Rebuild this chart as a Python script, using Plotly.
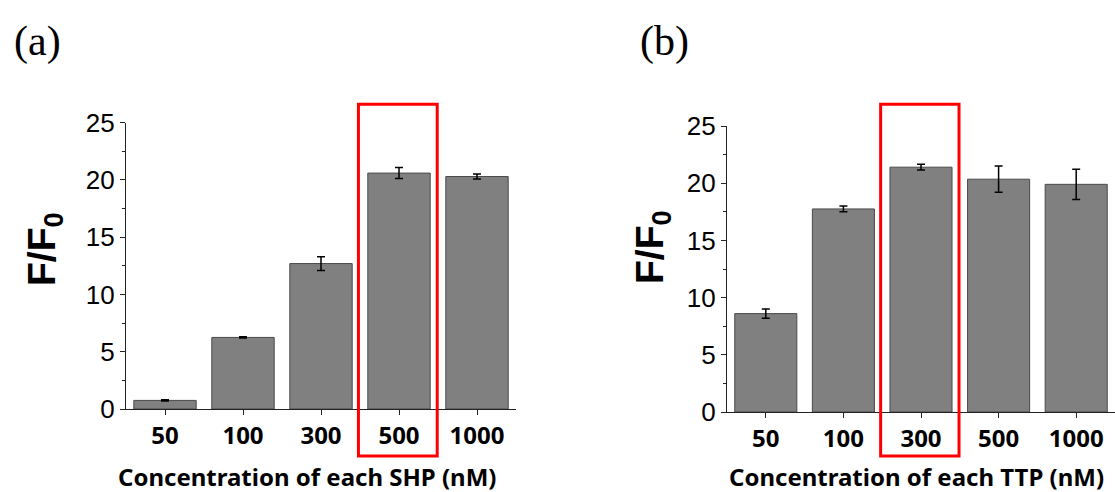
import plotly.graph_objects as go

# ---- data ----
conc_a = ["50", "100", "300", "500", "1000"]
ff0_a = [0.75, 6.25, 12.7, 20.6, 20.3]
err_a = [0.05, 0.05, 0.6, 0.48, 0.22]

conc_b = ["50", "100", "300", "500", "1000"]
ff0_b = [8.6, 17.75, 21.4, 20.35, 19.9]
err_b = [0.4, 0.25, 0.25, 1.15, 1.33]

xtitle_a = "Concentration of each SHP (nM)"
xtitle_b = "Concentration of each TTP (nM)"
ytitle = "F/F<sub>0</sub>"
panel_a = "(a)"
panel_b = "(b)"
highlight_a = "500"
highlight_b = "300"

W, H = 1115, 492
# axis domains (paper fractions)
dom_xa = [126 / W, 516 / W]
dom_ya = [(H - 409) / H, (H - 122.7) / H]
dom_xb = [727 / W, 1.0]
dom_yb = [(H - 412) / H, (H - 126) / H]

BAR_FILL = "#808080"
BAR_LINE = "#4a4a4a"
AX = "#222222"
TICK_FONT = dict(family="Liberation Sans, Arial, sans-serif", size=26, color="black")
XTICK_FONT = dict(family="Noto Sans, sans-serif", size=24, color="black", weight="bold")

fig = go.Figure()


def add_panel(cats, vals, errs, xa, ya):
    fig.add_trace(go.Bar(
        x=cats, y=vals, xaxis=xa, yaxis=ya, width=0.8,
        marker=dict(color=BAR_FILL, line=dict(color=BAR_LINE, width=1)),
        error_y=dict(type="data", array=errs, visible=True, color="black",
                     thickness=1.5, width=4),
        showlegend=False,
    ))


add_panel(conc_a, ff0_a, err_a, "x", "y")
add_panel(conc_b, ff0_b, err_b, "x2", "y2")

xcommon = dict(type="category", range=[-0.5, 4.5], showline=True, linecolor=AX,
               linewidth=1.3, ticks="outside", ticklen=5, tickwidth=1.3,
               tickcolor=AX, showgrid=False, zeroline=False, tickfont=XTICK_FONT,
               automargin=False, fixedrange=True)
ycommon = dict(range=[0, 25], dtick=5, tick0=0, showline=True, linecolor=AX,
               linewidth=1.3, ticks="outside", ticklen=5, tickwidth=1.3,
               tickcolor=AX, showgrid=False, zeroline=False, tickfont=TICK_FONT,
               ticklabelstandoff=0,
               minor=dict(dtick=2.5, ticks="outside", ticklen=3, tickwidth=1,
                          tickcolor=AX, showgrid=False),
               automargin=False, fixedrange=True)

fig.update_layout(
    template="none",
    width=W, height=H,
    margin=dict(l=0, r=0, t=0, b=0, pad=0, autoexpand=False),
    paper_bgcolor="white", plot_bgcolor="white",
    xaxis=dict(domain=dom_xa, anchor="y", **xcommon),
    yaxis=dict(domain=dom_ya, anchor="x", **ycommon),
    xaxis2=dict(domain=dom_xb, anchor="y2", **xcommon),
    yaxis2=dict(domain=dom_yb, anchor="x2", **ycommon),
    bargap=0.2,
)


def cat_to_paper(dom, pos):
    return dom[0] + (pos + 0.5) / 5 * (dom[1] - dom[0])


def add_box(cats, hl, domx):
    i = cats.index(hl)
    fig.add_shape(type="rect", xref="paper", yref="paper",
                  x0=cat_to_paper(domx, i - 0.52), x1=cat_to_paper(domx, i + 0.49),
                  y0=(H - 456) / H, y1=(H - 104.3) / H,
                  line=dict(color="#ff0000", width=3), fillcolor="rgba(0,0,0,0)")


add_box(conc_a, highlight_a, dom_xa)
add_box(conc_b, highlight_b, dom_xb)

TITLE_FONT = dict(family="Noto Sans, sans-serif", size=24, color="black", weight="bold")
YT_FONT = dict(family="Liberation Sans, Arial, sans-serif", size=39, color="black", weight="bold")
PANEL_FONT = dict(family="Liberation Serif, Times New Roman, serif", size=42, color="black")

ann = [
    dict(text=xtitle_a, x=307 / W, y=1 - 476.5 / H, font=TITLE_FONT),
    dict(text=xtitle_b, x=916 / W, y=1 - 476.5 / H, font=TITLE_FONT),
    dict(text=ytitle, x=44 / W, y=1 - 249 / H, font=YT_FONT, textangle=-90),
    dict(text=ytitle, x=652 / W, y=1 - 247 / H, font=YT_FONT, textangle=-90),
    dict(text=panel_a, x=37.5 / W, y=1 - 41 / H, font=PANEL_FONT),
    dict(text=panel_b, x=664 / W, y=1 - 41 / H, font=PANEL_FONT),
]
for a in ann:
    fig.add_annotation(xref="paper", yref="paper", xanchor="center", yanchor="middle",
                       showarrow=False, **a)

fig.write_html("out.html", config={"displayModeBar": False},
               post_script="document.body.style.margin='0';")
